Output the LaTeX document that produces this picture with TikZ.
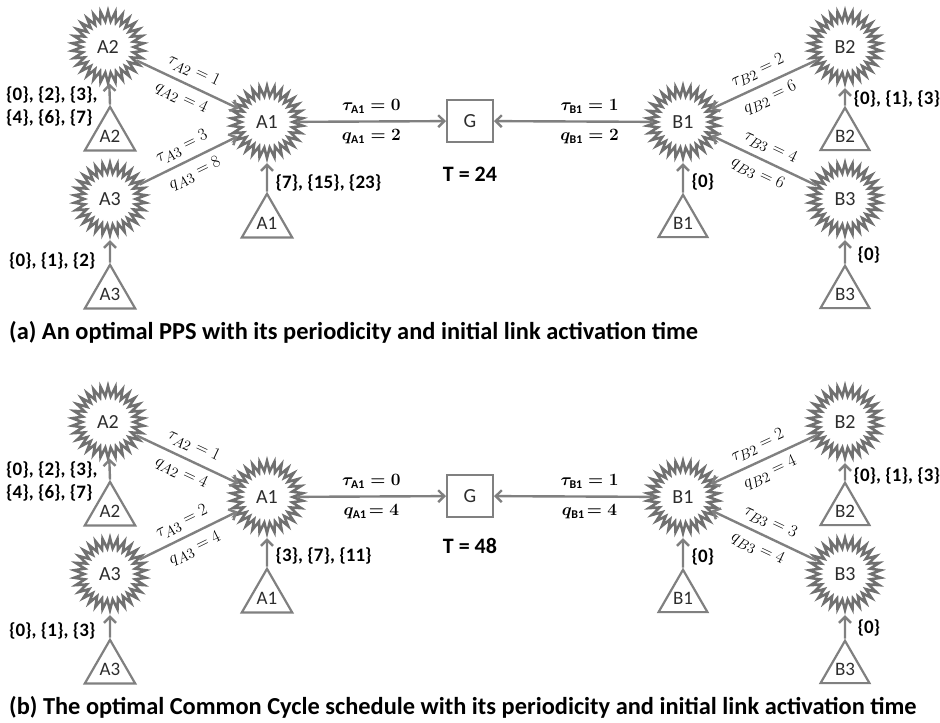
\documentclass[tikz,border=0pt]{standalone}
\usepackage{fontspec}
\setmainfont{Carlito}
\usetikzlibrary{shapes.geometric, arrows.meta}

\definecolor{linkgray}{RGB}{128,128,128}
\definecolor{geargray}{RGB}{112,112,112}
\definecolor{namegray}{RGB}{45,45,45}

\begin{document}
\begin{tikzpicture}[x = 1pt, y = -1pt,
  gear/.style = {star, star points = 30, star point ratio = 1.4, minimum size = 72pt,
    inner sep = 0pt, draw = geargray, line width = 2.6pt, fill = white,
    text = namegray, font = \fontsize{20}{22}\selectfont},
  src/.style = {regular polygon, regular polygon sides = 3, minimum size = 52pt,
    inner sep = 0pt, draw = linkgray, line width = 2.2pt,
    text = namegray, font = \fontsize{19}{20}\selectfont},
  gw/.style = {rectangle, minimum width = 46pt, minimum height = 42pt,
    draw = linkgray, line width = 2.2pt, text = namegray, font = \fontsize{20}{22}\selectfont},
  link/.style = {draw = linkgray, line width = 2.4pt, -{Straight Barb[length = 6pt, width = 12pt]}},
  slot/.style = {align = left, font = \fontsize{19}{23}\selectfont\bfseries},
  dlab/.style = {sloped, inner sep = 6pt, font = \fontsize{19}{21}\selectfont},
  hlab/.style = {inner sep = 7pt, font = \fontsize{17}{19}\selectfont\boldmath},
  period/.style = {font = \fontsize{22}{24}\selectfont\bfseries},
  caption/.style = {anchor = west, inner sep = 0pt, font = \fontsize{24.4}{28}\selectfont\bfseries}]

\useasboundingbox (0,0) rectangle (940,723);

% (a) periodic schedule
\node[gear] (A2) at (108,47) {A2};
\node[gear] (A1) at (267,122) {A1};
\node[gear] (A3) at (110,199) {A3};
\node[gw] (G) at (470,121) {G};
\node[gear] (B1) at (683,122) {B1};
\node[gear] (B2) at (845,47) {B2};
\node[gear] (B3) at (845,199) {B3};

\node[src] (sA2) at (110,136) {A2};
\node[src] (sA1) at (267,223) {A1};
\node[src] (sA3) at (110,294) {A3};
\node[src] (sB2) at (845,136) {B2};
\node[src] (sB1) at (683,223) {B1};
\node[src] (sB3) at (845,294) {B3};

\draw[link] (sA2.corner 1) -- (A2);
\draw[link] (sA1.corner 1) -- (A1);
\draw[link] (sA3.corner 1) -- (A3);
\draw[link] (sB2.corner 1) -- (B2);
\draw[link] (sB1.corner 1) -- (B1);
\draw[link] (sB3.corner 1) -- (B3);

\draw[link] (A2) -- node[dlab, above] {$\tau_{A2} = 1$} node[dlab, below] {$q_{A2} = 4$} (A1);
\draw[link] (A3) -- node[dlab, above] {$\tau_{A3} = 3$} node[dlab, below] {$q_{A3} = 8$} (A1);
\draw[link] (B2) -- node[dlab, above] {$\tau_{B2} = 2$} node[dlab, below] {$q_{B2} = 6$} (B1);
\draw[link] (B3) -- node[dlab, above] {$\tau_{B3} = 4$} node[dlab, below] {$q_{B3} = 6$} (B1);
\draw[link] (A1) -- node[hlab, above] {$\tau_{\mathrm{A1}} = 0$} node[hlab, below] {$q_{\mathrm{A1}} = 2$} (G);
\draw[link] (B1) -- node[hlab, above, pos = 0.4] {$\tau_{\mathrm{B1}} = 1$} node[hlab, below, pos = 0.4] {$q_{\mathrm{B1}} = 2$} (G);

\node[slot, anchor = east] (tA2) at (101,106) {\{0\}, \{2\}, \{3\},\\\{4\}, \{6\}, \{7\}};
\node[slot, anchor = west] (tA1) at (272,183) {\{7\}, \{15\}, \{23\}};
\node[slot, anchor = east] (tA3) at (99,261) {\{0\}, \{1\}, \{2\}};
\node[slot, anchor = west] (tB1) at (688,182) {\{0\}};
\node[slot, anchor = west] (tB2) at (850,99) {\{0\}, \{1\}, \{3\}};
\node[slot, anchor = west] (tB3) at (854,255) {\{0\}};

\node[period] (T) at (470,174) {T = 24};
\node[caption] (capA) at (9,332) {(a) An optimal PPS with its periodicity and initial link activation time};

% (b) common cycle schedule
\begin{scope}[yshift = -375pt, name prefix = b-]
\node[gear] (A2) at (108,47) {A2};
\node[gear] (A1) at (267,122) {A1};
\node[gear] (A3) at (110,199) {A3};
\node[gw] (G) at (470,121) {G};
\node[gear] (B1) at (683,122) {B1};
\node[gear] (B2) at (845,47) {B2};
\node[gear] (B3) at (845,199) {B3};

\node[src] (sA2) at (110,136) {A2};
\node[src] (sA1) at (267,223) {A1};
\node[src] (sA3) at (110,294) {A3};
\node[src] (sB2) at (845,136) {B2};
\node[src] (sB1) at (683,223) {B1};
\node[src] (sB3) at (845,294) {B3};

\draw[link] (sA2.corner 1) -- (A2);
\draw[link] (sA1.corner 1) -- (A1);
\draw[link] (sA3.corner 1) -- (A3);
\draw[link] (sB2.corner 1) -- (B2);
\draw[link] (sB1.corner 1) -- (B1);
\draw[link] (sB3.corner 1) -- (B3);

\draw[link] (A2) -- node[dlab, above] {$\tau_{A2} = 1$} node[dlab, below] {$q_{A2} = 4$} (A1);
\draw[link] (A3) -- node[dlab, above] {$\tau_{A3} = 2$} node[dlab, below] {$q_{A3} = 4$} (A1);
\draw[link] (B2) -- node[dlab, above] {$\tau_{B2} = 2$} node[dlab, below] {$q_{B2} = 4$} (B1);
\draw[link] (B3) -- node[dlab, above] {$\tau_{B3} = 3$} node[dlab, below] {$q_{B3} = 4$} (B1);
\draw[link] (A1) -- node[hlab, above] {$\tau_{\mathrm{A1}} = 0$} node[hlab, below] {$q_{\mathrm{A1}}\!= 4$} (G);
\draw[link] (B1) -- node[hlab, above, pos = 0.4] {$\tau_{\mathrm{B1}} = 1$} node[hlab, below, pos = 0.4] {$q_{\mathrm{B1}}\!= 4$} (G);

\node[slot, anchor = east] (tA2) at (101,106) {\{0\}, \{2\}, \{3\},\\\{4\}, \{6\}, \{7\}};
\node[slot, anchor = west] (tA1) at (272,181) {\{3\}, \{7\}, \{11\}};
\node[slot, anchor = east] (tA3) at (99,256) {\{0\}, \{1\}, \{3\}};
\node[slot, anchor = west] (tB1) at (688,182) {\{0\}};
\node[slot, anchor = west] (tB2) at (850,101) {\{0\}, \{1\}, \{3\}};
\node[slot, anchor = west] (tB3) at (854,253) {\{0\}};

\node[period] (T) at (470,171) {T = 48};
\node[caption] (capB) at (9,332) {(b) The optimal Common Cycle schedule with its periodicity and initial link activation time};
\end{scope}
\end{tikzpicture}
\end{document}
